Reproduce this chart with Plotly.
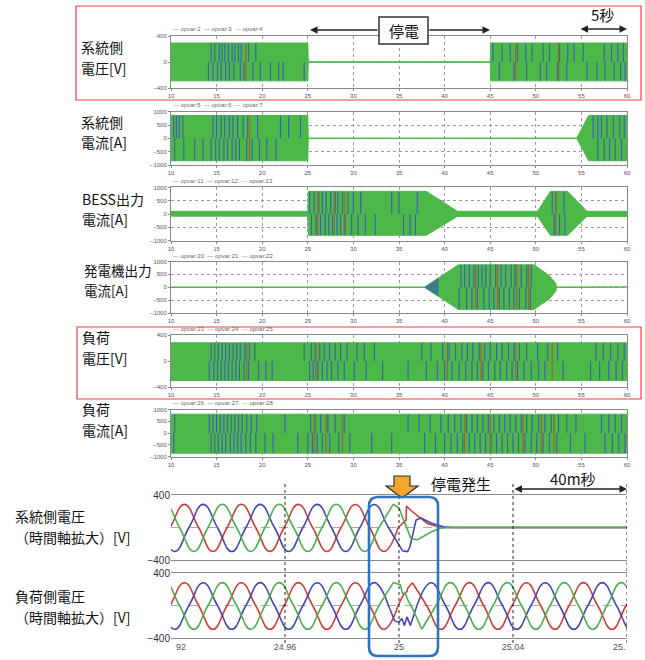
import plotly.graph_objects as go

W, H = 645, 660
FONT = "Noto Sans CJK JP"

# ---------------- strip-chart data (10 s .. 60 s) ----------------
strip_labels = [["系統側", "電圧[V]"], ["系統側", "電流[A]"], ["BESS出力", "電流[A]"],
                ["発電機出力", "電流[A]"], ["負荷", "電圧[V]"], ["負荷", "電流[A]"]]
legend_names = [["opvar:2", "opvar:3", "opvar:4"], ["opvar:5", "opvar:6", "opvar:7"],
                ["opvar:11", "opvar:12", "opvar:13"], ["opvar:20", "opvar:21", "opvar:22"],
                ["opvar:23", "opvar:24", "opvar:25"], ["opvar:26", "opvar:27", "opvar:28"]]
strip_x_ticks = [10, 15, 20, 25, 30, 35, 40, 45, 50, 55, 60]
volt_ticks = [-400, 0, 400]
curr_ticks = [-1000, -500, 0, 500, 1000]

# envelopes of the three-phase waveforms (time, upper, lower)
gridv_t = [10, 25, 25.05, 45, 45.05, 60]
gridv_up = [292, 292, 4, 4, 292, 292]
gridv_lo = [-290, -290, -4, -4, -290, -290]

gridi_t = [10, 25, 25.05, 54.5, 55.8, 60]
gridi_up = [860, 860, 10, 10, 860, 860]
gridi_lo = [-840, -840, -10, -10, -840, -840]

bess_t = [10, 25, 25.05, 38, 41.4, 50.2, 51.6, 53.5, 55.6, 60]
bess_up = [100, 100, 850, 850, 100, 100, 850, 850, 100, 100]
bess_lo = [-80, -80, -800, -800, -90, -90, -800, -800, -90, -90]

gen_t = [10, 37.85, 41.5, 49.8, 51.5, 51.9, 52.2, 52.25, 60]
gen_up = [10, 10, 870, 870, 450, 300, 150, 10, 10]
gen_lo = [-10, -10, -860, -860, -450, -300, -150, -10, -10]
# dark start-up wedge of the generator current
gen_wedge_t = [37.85, 39.3]
gen_wedge_up = [10, 350]
gen_wedge_lo = [-10, -345]

loadv_t = [10, 60]
loadv_up = [280, 280]
loadv_lo = [-300, -300]

loadi_t = [10, 60]
loadi_up = [800, 800]
loadi_lo = [-850, -850]

# dark stripes (aliasing of the phase traces)
p1_blue_up = [14.4, 14.8, 15.3, 15.6, 15.9, 16.3, 16.7, 17.0, 17.4, 17.7, 18.5, 19.3, 45.3, 46.3, 47.2, 48.0,
              48.9, 49.6, 50.8, 51.5, 52.6, 53.5, 54.2, 55.2, 57.5, 58.3, 59.0, 59.6]
p1_blue_dn = [14.1, 14.6, 15.1, 15.5, 16.0, 16.4, 16.9, 17.6, 18.0, 19.0, 19.8, 20.9, 21.8, 22.3, 24.6, 46.0,
              47.6, 49.0, 50.5, 51.2, 52.4, 53.4, 55.6, 56.7, 57.6, 58.6, 59.3, 59.8]
p1_brown = [18.2, 47.8, 52.5]

p2_blue_up = [10.3, 10.6, 10.9, 11.3, 14.6, 15.0, 15.5, 15.9, 16.4, 16.8, 17.3, 17.9, 18.4, 19.5, 22.0, 22.9,
              24.2, 56.3, 56.8, 57.2, 57.8, 58.5, 59.2, 59.7]
p2_blue_dn = [10.4, 11.4, 12.6, 13.5, 14.4, 14.9, 15.3, 15.8, 16.2, 16.7, 17.1, 17.5, 18.3, 18.9, 19.7, 20.5,
              21.5, 56.8, 57.5, 58.1, 58.7, 59.4]
p2_brown = [18.6]

p3_blue_up = [25.2, 25.7, 26.2, 26.6, 27.0, 27.5, 28.0, 28.3, 28.8, 29.4, 30.0, 30.8, 34.2, 35.0, 37.0,
              51.8, 52.2, 53.1]
p3_blue_dn = [25.4, 25.9, 26.4, 26.9, 27.3, 27.7, 28.2, 28.6, 29.1, 29.8, 30.5, 31.3, 32.4, 35.5, 36.2,
              36.8, 52.0, 52.6, 53.2]
p3_brown = [26.1, 27.9, 29.0, 52.2]

p4_blue_up = [41.8, 42.2, 42.7, 43.2, 43.7, 44.1, 44.5, 45.0, 45.6, 46.2, 46.7, 47.3, 47.7, 48.4, 49.0, 49.5]
p4_blue_dn = [41.6, 42.4, 43.0, 43.6, 44.3, 44.9, 45.4, 46.0, 46.5, 47.1, 47.6, 48.2, 48.9, 49.4]
p4_brown = [43.4, 45.8, 47.9, 49.2]

p5_blue_up = [14.4, 14.8, 15.2, 15.6, 16.0, 16.4, 16.8, 17.2, 17.6, 18.1, 18.6, 19.2, 24.6, 25.4, 25.8, 26.3,
              26.8, 27.4, 28.0, 28.6, 29.3, 30.4, 31.2, 32.3, 37.5, 38.5, 39.8, 40.5, 41.2, 41.9, 42.5, 43.1,
              43.8, 44.4, 45.0, 45.7, 46.3, 47.0, 47.6, 48.2, 49.0, 50.2, 51.3, 52.4, 56.6, 57.4, 58.2, 59.0, 59.7]
p5_blue_dn = [14.2, 14.7, 15.1, 15.5, 15.9, 16.3, 16.7, 17.1, 17.5, 18.0, 18.5, 19.6, 20.4, 21.1, 25.2, 25.6,
              26.1, 26.6, 27.1, 27.6, 28.3, 29.0, 30.1, 31.4, 33.2, 36.0, 38.0, 39.2, 40.0, 40.8, 41.6, 42.3,
              43.0, 43.6, 44.2, 44.8, 45.5, 46.1, 46.8, 47.4, 48.0, 48.7, 49.5, 50.3, 51.0, 53.0, 56.0, 57.0,
              58.0, 58.8, 59.5]
p5_brown = [18.3, 25.9, 40.3, 44.0, 47.8, 51.8]

p6_blue_up = [10.4, 14.2, 14.6, 15.0, 15.4, 15.8, 16.2, 16.6, 17.0, 17.4, 17.8, 18.3, 18.8, 19.4, 22.5, 25.3,
              25.8, 26.4, 27.2, 28.0, 29.0, 36.0, 37.2, 38.4, 39.6, 40.4, 41.1, 41.8, 42.4, 43.0, 43.6, 44.2,
              44.8, 45.4, 46.0, 46.6, 47.2, 47.8, 48.4, 49.0, 49.6, 50.3, 51.0, 51.7, 52.5, 53.4, 54.4, 57.2,
              58.0, 58.7, 59.4]
p6_blue_dn = [10.3, 14.4, 14.8, 15.2, 15.6, 16.0, 16.5, 16.9, 17.3, 17.7, 18.2, 18.7, 19.3, 20.3, 21.2, 23.9,
              25.0, 25.5, 26.0, 26.6, 27.4, 28.4, 29.6, 32.0, 34.2, 37.8, 39.0, 40.0, 40.7, 41.4, 42.0, 42.7,
              43.3, 43.9, 44.5, 45.1, 45.7, 46.3, 46.9, 47.5, 48.1, 48.8, 49.5, 50.1, 50.8, 51.5, 52.3, 53.8,
              55.4, 57.6, 58.4, 59.1, 59.8]
p6_brown = [25.7, 27.0, 28.8, 42.2, 45.0, 48.6, 50.6, 52.0]

# ---------------- zoomed waveforms (24.92 s .. 25.08 s) ----------------
zoom_x_ticks = [24.96, 25.0, 25.04]
zoom_x_text = ["24.96", "25", "25.04"]
zoom_y_ticks = [-400, 0, 400]
zoom_y_text = ["−400", "", "400"]

sys_red_t = [24.9147, 24.9197, 24.9247, 24.9297, 24.9347, 24.9397, 24.9447, 24.9497, 24.9547, 24.9597,
             24.9647, 24.9697, 24.9747, 24.9797, 24.9847, 24.9897, 24.9947, 24.9997]
sys_red_v = [-295, 0, 285, 0, -295, 0, 286, 0, -294, 0, 285, 0, -295, 0, 284, 0, -295, 0]
sys_blue_t = [24.9163, 24.9213, 24.9263, 24.9313, 24.9363, 24.9413, 24.9463, 24.9513, 24.9563, 24.9613,
              24.9663, 24.9713, 24.9763, 24.9813, 24.9863, 24.9913, 24.9963, 25.0013]
sys_blue_v = [0, -295, 0, 285, 0, -296, 0, 285, 0, -295, 0, 285, 0, -295, 0, 284, 0, -290]
sys_green_t = [24.913, 24.918, 24.923, 24.928, 24.933, 24.938, 24.943, 24.948, 24.953, 24.958,
               24.963, 24.968, 24.973, 24.978, 24.983, 24.988, 24.993, 24.998]
sys_green_v = [0, 288, 0, -295, 0, 286, 0, -295, 0, 287, 0, -295, 0, 286, 0, -295, 0, 286]
sys_red_ft = [24.9997, 25.0012, 25.0025, 25.0026, 25.0040, 25.0070, 25.0100, 25.0137, 25.0175, 25.0800]
sys_red_fv = [0, 55, 92, 265, 215, 130, 50, 10, 0, 0]
sys_blue_ft = [25.0013, 25.0030, 25.0038, 25.0060, 25.0077, 25.0112, 25.0158, 25.0190, 25.0800]
sys_blue_fv = [-290, -297, -240, 92, 117, 55, 6, 0, 0]
sys_green_ft = [24.998, 25.0000, 25.0020, 25.0042, 25.0065, 25.0093, 25.0116, 25.0145, 25.0180, 25.0800]
sys_green_fv = [286, 240, 60, -140, -150, -100, -50, -10, 0, 0]

load_red_t = sys_red_t
load_red_v = [-290, 0, 280, 0, -292, 0, 280, 0, -292, 0, 281, 0, -292, 0, 280, 0, -292, 0]
load_red_ft = [24.9997, 25.0015, 25.0028, 25.0031, 25.0047]
load_red_fv = [0, 130, 175, 215, 280]
load_red_pt = [25.0047, 25.0097, 25.0147, 25.0197, 25.0247, 25.0297, 25.0347, 25.0397, 25.0447, 25.0497,
               25.0547, 25.0597, 25.0647, 25.0697, 25.0747, 25.0797, 25.0847]
load_red_pv = [280, 0, -292, 0, 281, 0, -292, 0, 280, 0, -292, 0, 281, 0, -292, 0, 280]

load_blue_t = [24.9163, 24.9213, 24.9263, 24.9313, 24.9363, 24.9413, 24.9463, 24.9513, 24.9563, 24.9613,
               24.9663, 24.9713, 24.9763, 24.9813, 24.9863, 24.9913, 24.9963]
load_blue_v = [0, -292, 0, 280, 0, -292, 0, 281, 0, -292, 0, 280, 0, -292, 0, 281, 0]
load_blue_ft = [24.9963, 24.9985, 25.0000, 25.0010, 25.0019, 25.0028, 25.0040, 25.0054, 25.0063]
load_blue_fv = [0, -190, -205, -160, -245, -140, -245, -95, 0]
load_blue_pt = [25.0063, 25.0113, 25.0163, 25.0213, 25.0263, 25.0313, 25.0363, 25.0413, 25.0463, 25.0513,
                25.0563, 25.0613, 25.0663, 25.0713, 25.0763, 25.0813, 25.0863]
load_blue_pv = [0, 280, 0, -292, 0, 281, 0, -292, 0, 280, 0, -292, 0, 281, 0, -292, 0]

load_green_t = sys_green_t
load_green_v = [0, 282, 0, -292, 0, 281, 0, -292, 0, 282, 0, -292, 0, 281, 0, -292, 0, 282]
load_green_ft = [24.998, 25.0005, 25.0012, 25.0022, 25.0032, 25.0045, 25.0058, 25.0080]
load_green_fv = [282, 255, 150, 150, 60, -20, -120, -292]
load_green_pt = [25.008, 25.013, 25.018, 25.023, 25.028, 25.033, 25.038, 25.043, 25.048, 25.053,
                 25.058, 25.063, 25.068, 25.073, 25.078, 25.083]
load_green_pv = [-292, 0, 281, 0, -292, 0, 282, 0, -292, 0, 281, 0, -292, 0, 282, 0]

# ---------------- styling constants ----------------
GREEN = "#4cb847"
BLUE_S = "#3c64ae"
BROWN_S = "#a0652a"
WEDGE = "#3f7d8c"
C_RED, C_BLUE, C_GREEN = "#c9403a", "#4646b0", "#4fae4f"

X0, X1 = 171, 627
strip_dom = [(36, 88), (111.7, 165), (187.4, 240.6), (261.5, 313), (335, 387), (409.5, 456.7)]
# label left x, first-line y, second-line y, font size
strip_label_pos = [(79, 47, 68, 14), (79, 122, 142, 14), (80, 199, 219, 14), (82, 270, 290, 13.5),
                   (80, 337, 358, 14), (80, 409, 430, 14)]
legend_y = [29, 105, 181, 256, 329, 403]
zoom_dom = [(495, 560), (573, 638)]

envelopes = [(gridv_t, gridv_up, gridv_lo), (gridi_t, gridi_up, gridi_lo), (bess_t, bess_up, bess_lo),
             (gen_t, gen_up, gen_lo), (loadv_t, loadv_up, loadv_lo), (loadi_t, loadi_up, loadi_lo)]
stripes = [(p1_blue_up, p1_blue_dn, p1_brown), (p2_blue_up, p2_blue_dn, p2_brown),
           (p3_blue_up, p3_blue_dn, p3_brown), (p4_blue_up, p4_blue_dn, p4_brown),
           (p5_blue_up, p5_blue_dn, p5_brown), (p6_blue_up, p6_blue_dn, p6_brown)]
is_volt = [True, False, False, False, True, False]


def px(x):
    return x / W


def py(y):
    return 1 - y / H


fig = go.Figure()
layout = dict(template="none", width=W, height=H,
              margin=dict(l=0, r=0, t=0, b=0, pad=0, autoexpand=False),
              paper_bgcolor="white", plot_bgcolor="white", showlegend=False)
annotations, shapes = [], []


def seg_trace(ts, lo_vals, hi_vals):
    xs, ys = [], []
    for t, a, b in zip(ts, lo_vals, hi_vals):
        xs += [t, t, None]
        ys += [a, b, None]
    return xs, ys


def text_ann(txt, x, y, size, xanchor="left", color="#111", family=FONT):
    annotations.append(dict(text=txt, x=px(x), y=py(y), xref="paper", yref="paper", showarrow=False,
                            xanchor=xanchor, yanchor="middle", align="left" if xanchor == "left" else "center",
                            font=dict(size=size, color=color, family=family)))


for i in range(6):
    n = i + 1
    xa, ya = f"x{n}", f"y{n}"
    t, up, lo = envelopes[i]
    fig.add_trace(go.Scatter(x=t + t[::-1], y=up + lo[::-1], fill="toself", fillcolor=GREEN,
                             line=dict(color=GREEN, width=1), mode="lines", xaxis=xa, yaxis=ya,
                             hoverinfo="skip"))
    if i == 3:
        fig.add_trace(go.Scatter(x=gen_wedge_t + gen_wedge_t[::-1], y=gen_wedge_up + gen_wedge_lo[::-1],
                                 fill="toself", fillcolor=WEDGE, line=dict(color=WEDGE, width=0.5),
                                 mode="lines", xaxis=xa, yaxis=ya, hoverinfo="skip"))
    bu, bd, br = stripes[i]
    top, bot = max(up), min(lo)
    xs, ys = seg_trace(bu, [0] * len(bu), [top] * len(bu))
    fig.add_trace(go.Scatter(x=xs, y=ys, mode="lines", line=dict(color=BLUE_S, width=1.2),
                             xaxis=xa, yaxis=ya, hoverinfo="skip"))
    xs, ys = seg_trace(bd, [bot] * len(bd), [0] * len(bd))
    fig.add_trace(go.Scatter(x=xs, y=ys, mode="lines", line=dict(color=BLUE_S, width=1.2),
                             xaxis=xa, yaxis=ya, hoverinfo="skip"))
    xs, ys = seg_trace(br, [bot] * len(br), [top] * len(br))
    fig.add_trace(go.Scatter(x=xs, y=ys, mode="lines", line=dict(color=BROWN_S, width=1.2),
                             xaxis=xa, yaxis=ya, hoverinfo="skip"))

    yt = volt_ticks if is_volt[i] else curr_ticks
    yr = [-400, 400] if is_volt[i] else [-1000, 1000]
    top_px, bot_px = strip_dom[i]
    common = dict(showgrid=True, gridcolor="#9a9a9a", griddash="dot", gridwidth=1,
                  showline=True, mirror=True, linecolor="#8a8a8a", linewidth=1,
                  ticks="outside", ticklen=2, tickcolor="#888", zeroline=False, automargin=False,
                  tickfont=dict(size=6, color="#555", family="Liberation Sans"))
    layout["xaxis" + ("" if n == 1 else str(n))] = dict(
        domain=[px(X0), px(X1)], anchor=ya, range=[10, 60], tickvals=strip_x_ticks, **common)
    layout["yaxis" + ("" if n == 1 else str(n))] = dict(
        domain=[py(bot_px), py(top_px)], anchor=xa, range=yr, tickvals=yt, **common)

    lx, ly1, ly2, fs = strip_label_pos[i]
    text_ann(strip_labels[i][0], lx, ly1, fs)
    text_ann(strip_labels[i][1], lx, ly2, fs)
    a, b, c = legend_names[i]
    leg = (f'<span style="color:#e8625a">—</span> {a}  <span style="color:#5a6fc8">—</span> {b}  '
           f'<span style="color:#5cc25c">—</span> {c}')
    text_ann(leg, X0, legend_y[i], 6, color="#666", family="Liberation Sans")

# zoomed panels
zoom_series = [
    [(sys_red_t, sys_red_v, C_RED, "spline"), (sys_blue_t, sys_blue_v, C_BLUE, "spline"),
     (sys_green_t, sys_green_v, C_GREEN, "spline"),
     (sys_red_ft, sys_red_fv, C_RED, "linear"), (sys_blue_ft, sys_blue_fv, C_BLUE, "linear"),
     (sys_green_ft, sys_green_fv, C_GREEN, "linear")],
    [(load_red_t, load_red_v, C_RED, "spline"), (load_red_ft, load_red_fv, C_RED, "linear"),
     (load_red_pt, load_red_pv, C_RED, "spline"),
     (load_blue_t, load_blue_v, C_BLUE, "spline"), (load_blue_ft, load_blue_fv, C_BLUE, "linear"),
     (load_blue_pt, load_blue_pv, C_BLUE, "spline"),
     (load_green_t, load_green_v, C_GREEN, "spline"), (load_green_ft, load_green_fv, C_GREEN, "linear"),
     (load_green_pt, load_green_pv, C_GREEN, "spline")],
]
zoom_labels = [["系統側電圧", "（時間軸拡大）[V]"], ["負荷側電圧", "（時間軸拡大）[V]"]]
zoom_label_y = [(516, 537), (596, 617)]

for j in range(2):
    n = 7 + j
    xa, ya = f"x{n}", f"y{n}"
    for t, v, col, shp in zoom_series[j]:
        line = dict(color=col, width=1.6, shape=shp)
        if shp == "spline":
            line["smoothing"] = 1.3
        fig.add_trace(go.Scatter(x=t, y=v, mode="lines", line=line, xaxis=xa, yaxis=ya, hoverinfo="skip"))
    top_px, bot_px = zoom_dom[j]
    layout[f"xaxis{n}"] = dict(
        domain=[px(X0), px(X1)], anchor=ya, range=[24.92, 25.08], tickvals=zoom_x_ticks,
        ticktext=zoom_x_text, showticklabels=(j == 1), showgrid=False, automargin=False,
        showline=True, mirror=True, linecolor="#8a8a8a", linewidth=1.2, zeroline=False, ticks="",
        tickfont=dict(size=9, color="#555", family="Liberation Sans"))
    layout[f"yaxis{n}"] = dict(
        domain=[py(bot_px), py(top_px)], anchor=xa, range=[-400, 400], tickvals=zoom_y_ticks,
        ticktext=zoom_y_text, showgrid=True, gridcolor="#a8a8a8", griddash="dash", gridwidth=1,
        showline=False, zeroline=False, ticks="", automargin=False,
        tickfont=dict(size=10, color="#333", family="Liberation Sans"))
    text_ann(zoom_labels[j][0], 13, zoom_label_y[j][0], 14)
    text_ann(zoom_labels[j][1], 13, zoom_label_y[j][1], 14)

# truncated edge tick labels of the zoomed axis
text_ann("92", 181, 647, 9, xanchor="center", color="#555", family="Liberation Sans")
text_ann("25.", 619, 647, 9, xanchor="center", color="#555", family="Liberation Sans")

# vertical dotted time markers across both zoomed panels
for xv in [24.96, 25.0, 25.04, 25.08]:
    shapes.append(dict(type="line", xref="x8", yref="paper", x0=xv, x1=xv, y0=py(643), y1=py(483),
                       line=dict(color="#222", width=1, dash="dot"), layer="above"))

# red highlight boxes
for (x0, y0, x1, y1) in [(76, 6, 641, 100), (77, 327, 641, 399)]:
    shapes.append(dict(type="rect", xref="paper", yref="paper", x0=px(x0), x1=px(x1), y0=py(y1), y1=py(y0),
                       line=dict(color="#ef4040", width=1.2), layer="above"))

# 停電 box and arrows
shapes.append(dict(type="rect", xref="paper", yref="paper", x0=px(379), x1=px(428), y0=py(44), y1=py(17),
                   line=dict(color="#333", width=1.5), fillcolor="white", layer="above"))
text_ann("停電", 403.5, 30.5, 15, xanchor="center")


def arrow(xh, y, xt, both=False):
    d = dict(x=px(xh), y=py(y), xref="paper", yref="paper", ax=xt - xh, ay=0, text="", showarrow=True,
             arrowhead=2, arrowsize=1, arrowwidth=1.5, arrowcolor="#222")
    if both:
        d.update(arrowside="end+start", startarrowhead=2, startarrowsize=1)
    annotations.append(d)


arrow(310, 30, 379)
arrow(490, 30, 428)
arrow(627, 29, 579, both=True)
text_ann("5秒", 602, 14, 15, xanchor="center")

arrow(627, 489, 513, both=True)
text_ann("40m秒", 573, 478, 15, xanchor="center")
text_ann("停電発生", 461, 483, 15, xanchor="center")


def pth(pts):
    return "M " + " L ".join(f"{px(a):.5f},{py(b):.5f}" for a, b in pts) + " Z"


# orange block arrow
shapes.append(dict(type="path", xref="paper", yref="paper",
                   path=pth([(394, 476), (410, 476), (410, 486), (418, 486), (402, 498), (386, 486), (394, 486)]),
                   fillcolor="#f4a62a", line=dict(color="#333", width=1.2), layer="above"))

# blue rounded rectangle
bx0, by0, bx1, by1, r = 369, 497, 438, 656, 9
rx, ry = r / W, r / H
X0p, X1p, Y0p, Y1p = px(bx0), px(bx1), py(by0), py(by1)
rpath = (f"M {X0p+rx},{Y0p} L {X1p-rx},{Y0p} Q {X1p},{Y0p} {X1p},{Y0p-ry} "
         f"L {X1p},{Y1p+ry} Q {X1p},{Y1p} {X1p-rx},{Y1p} L {X0p+rx},{Y1p} Q {X0p},{Y1p} {X0p},{Y1p+ry} "
         f"L {X0p},{Y0p-ry} Q {X0p},{Y0p} {X0p+rx},{Y0p} Z")
shapes.append(dict(type="path", xref="paper", yref="paper", path=rpath,
                   line=dict(color="#2f74c0", width=2.6), layer="above"))

layout["annotations"] = annotations
layout["shapes"] = shapes
fig.update_layout(**layout)
fig.write_html("out.html", config={"displayModeBar": False},
               post_script="document.body.style.margin='0';document.body.style.overflow='hidden';")
